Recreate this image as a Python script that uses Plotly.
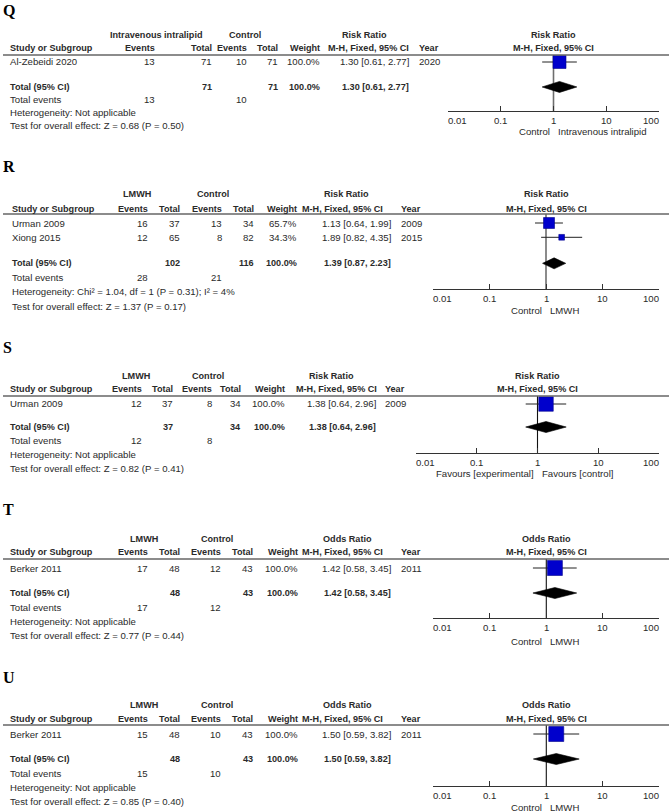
import math
import plotly.graph_objects as go

W, H = 669, 812

# ---------------- data ----------------
panels = ["Q", "R", "S", "T", "U"]
exp_label = ["Intravenous intralipid", "LMWH", "LMWH", "LMWH", "LMWH"]
measure = ["Risk Ratio", "Risk Ratio", "Risk Ratio", "Odds Ratio", "Odds Ratio"]
studies = [["Al-Zebeidi 2020"], ["Urman 2009", "Xiong 2015"], ["Urman 2009"], ["Berker 2011"], ["Berker 2011"]]
years = [[2020], [2009, 2015], [2009], [2011], [2011]]
exp_events = [[13], [16, 12], [12], [17], [15]]
exp_total = [[71], [37, 65], [37], [48], [48]]
ctl_events = [[10], [13, 8], [8], [12], [10]]
ctl_total = [[71], [34, 82], [34], [43], [43]]
weights = [[100.0], [65.7, 34.3], [100.0], [100.0], [100.0]]
est = [[1.30], [1.13, 1.89], [1.38], [1.42], [1.50]]
ci_lo = [[0.61], [0.64, 0.82], [0.64], [0.58], [0.59]]
ci_hi = [[2.77], [1.99, 4.35], [2.96], [3.45], [3.82]]
pooled_est = [1.30, 1.39, 1.38, 1.42, 1.50]
pooled_lo = [0.61, 0.87, 0.64, 0.58, 0.59]
pooled_hi = [2.77, 2.23, 2.96, 3.45, 3.82]
heterogeneity = ["Not applicable", "Chi² = 1.04, df = 1 (P = 0.31); I² = 4%",
                 "Not applicable", "Not applicable", "Not applicable"]
overall_test = ["Z = 0.68 (P = 0.50)", "Z = 1.37 (P = 0.17)", "Z = 0.82 (P = 0.41)",
                "Z = 0.77 (P = 0.44)", "Z = 0.85 (P = 0.40)"]
favour_left = ["Control", "Control", "Favours [experimental]", "Control", "Control"]
favour_right = ["Intravenous intralipid", "LMWH", "Favours [control]", "LMWH", "LMWH"]
tick_vals = [0.01, 0.1, 1, 10, 100]
tick_text = ["0.01", "0.1", "1", "10", "100"]

# ---------------- layout (pixels) ----------------
P_letter = [10, 167, 347, 510, 677]
P_h1 = [35, 194, 376, 539, 705]
P_h2 = [48, 209, 389, 552, 719]
P_line = [55, 214, 396, 559, 725]
P_row0 = [62, 223, 404, 568, 734]
P_dy = [12.8, 14.3, 13.7, 14.3, 14.3]
P_gap = [1.95, 1.82, 1.68, 1.75, 1.75]
P_axis = [111, 289, 453, 618, 786]
P_fav = [131, 311, 473, 641, 807]
P_x001 = [448, 432.7, 415.7, 433.3, 433.3]
P_x100 = [659, 659.3, 659.3, 659.3, 659.3]
P_left = [10, 11.5, 10, 10, 10]
C_exp_ev = [155, 148, 142, 148, 148]
C_exp_n = [212, 180, 173, 180, 180]
C_ctl_ev = [247, 222, 212, 221, 221]
C_ctl_n = [278, 254, 241, 253, 253]
C_weight = [320, 297, 285, 298, 298]
C_est = [409, 391, 376, 391, 391]
C_est_hdr = [409, 383, 377, 383, 383]
C_year = [419, 401, 385, 401, 401]
C_exp_hdr = [156, 137, 136, 144, 144]
C_ctl_hdr = [245, 213, 208, 217, 217]
C_meas_hdr = [365, 346, 331, 347, 347]
P_sq = [13, 16.7, 14.5, 15, 15]
P_vline_col = ["#6e6e6e", "#6e6e6e", "#111111", "#111111", "#111111"]
P_vline_w = [1.6, 1.6, 1.1, 1.1, 1.1]

FONT = "Liberation Sans, Arial, sans-serif"
TXT = "#2a2a2a"
REG = 9.6
BLD = 9.1

fig = go.Figure()
ann = []
shapes = []


def txt(x, y, s, anchor="left", bold=False, size=None, family=FONT, color=TXT):
    if size is None:
        size = BLD if bold else REG
    ann.append(dict(x=x / W, y=1 - y / H, xref="paper", yref="paper",
                    text=("<b>%s</b>" % s) if bold else s, showarrow=False,
                    xanchor=anchor, yanchor="middle", borderpad=0, borderwidth=0,
                    font=dict(family=family, size=size, color=color)))


for k in range(len(panels)):
    ax = "" if k == 0 else str(k + 1)
    xa, ya = "x" + ax, "y" + ax
    dy = P_dy[k]
    r0 = P_row0[k]
    n = len(studies[k])
    total_row = n - 1 + P_gap[k]
    ytop = (P_line[k] - r0) / dy
    ybot = (P_axis[k] - r0) / dy

    fig.update_layout(**{
        "xaxis" + ax: dict(type="log", range=[-2, 2], domain=[P_x001[k] / W, P_x100[k] / W],
                           anchor=ya, showline=True, linecolor="#333333", linewidth=1.3,
                           ticks="inside", ticklen=5, tickwidth=1.2, tickcolor="#333333",
                           tickvals=tick_vals, showticklabels=False, showgrid=False,
                           zeroline=False, fixedrange=True),
        "yaxis" + ax: dict(domain=[1 - P_axis[k] / H, 1 - P_line[k] / H], range=[ybot, ytop],
                           visible=False, showgrid=False, zeroline=False, fixedrange=True),
    })

    # line of no effect
    fig.add_trace(go.Scatter(x=[1, 1], y=[ytop, ybot + 3 / dy], mode="lines", xaxis=xa, yaxis=ya,
                             line=dict(color=P_vline_col[k], width=P_vline_w[k]),
                             hoverinfo="skip", showlegend=False, cliponaxis=False))
    # whiskers
    wx, wy = [], []
    for i in range(n):
        wx += [ci_lo[k][i], ci_hi[k][i], None]
        wy += [i, i, None]
    fig.add_trace(go.Scatter(x=wx, y=wy, mode="lines", xaxis=xa, yaxis=ya,
                             line=dict(color="#222222", width=1), hoverinfo="skip",
                             showlegend=False, cliponaxis=False))
    # squares
    fig.add_trace(go.Scatter(x=est[k], y=list(range(n)), mode="markers", xaxis=xa, yaxis=ya,
                             marker=dict(symbol="square", color="#0000CC", opacity=1,
                                         size=[P_sq[k] * w / 100 for w in weights[k]],
                                         line=dict(color="#00008B", width=0.6)),
                             hoverinfo="skip", showlegend=False, cliponaxis=False))
    # diamond
    hh = 5.5 / dy
    fig.add_trace(go.Scatter(x=[pooled_lo[k], pooled_est[k], pooled_hi[k], pooled_est[k], pooled_lo[k]],
                             y=[total_row, total_row - hh, total_row, total_row + hh, total_row],
                             mode="lines", fill="toself", fillcolor="#000000", xaxis=xa, yaxis=ya,
                             line=dict(color="#000000", width=0.6), hoverinfo="skip",
                             showlegend=False, cliponaxis=False))

    # header separator
    shapes.append(dict(type="line", xref="paper", yref="paper", x0=3 / W, x1=1,
                       y0=1 - P_line[k] / H, y1=1 - P_line[k] / H,
                       line=dict(color="#666666", width=1.3)))

    # panel letter
    txt(3, P_letter[k], panels[k], bold=True, size=16, family="Liberation Serif, Times New Roman, serif",
        color="#000000")

    xc = (P_x001[k] + P_x100[k]) / 2
    # header rows
    txt(C_exp_hdr[k], P_h1[k], exp_label[k], "center", True)
    txt(C_ctl_hdr[k], P_h1[k], "Control", "center", True)
    txt(C_meas_hdr[k], P_h1[k], measure[k], "center", True)
    txt(xc, P_h1[k], measure[k], "center", True)
    h2 = P_h2[k]
    txt(P_left[k], h2, "Study or Subgroup", "left", True)
    txt(C_exp_ev[k], h2, "Events", "right", True)
    txt(C_exp_n[k], h2, "Total", "right", True)
    txt(C_ctl_ev[k], h2, "Events", "right", True)
    txt(C_ctl_n[k], h2, "Total", "right", True)
    txt(C_weight[k], h2, "Weight", "right", True)
    txt(C_est_hdr[k], h2, "M-H, Fixed, 95% CI", "right", True)
    txt(C_year[k], h2, "Year", "left", True)
    txt(xc, h2, "M-H, Fixed, 95% CI", "center", True)

    # study rows
    for i in range(n):
        y = r0 + i * dy
        txt(P_left[k], y, studies[k][i])
        txt(C_exp_ev[k], y, str(exp_events[k][i]), "right")
        txt(C_exp_n[k], y, str(exp_total[k][i]), "right")
        txt(C_ctl_ev[k], y, str(ctl_events[k][i]), "right")
        txt(C_ctl_n[k], y, str(ctl_total[k][i]), "right")
        txt(C_weight[k], y, "%.1f%%" % weights[k][i], "right")
        txt(C_est[k], y, "%.2f [%.2f, %.2f]" % (est[k][i], ci_lo[k][i], ci_hi[k][i]), "right")
        txt(C_year[k], y, str(years[k][i]), "left")

    # total row
    yt = r0 + total_row * dy
    txt(P_left[k], yt, "Total (95% CI)", "left", True)
    txt(C_exp_n[k], yt, str(sum(exp_total[k])), "right", True)
    txt(C_ctl_n[k], yt, str(sum(ctl_total[k])), "right", True)
    txt(C_weight[k], yt, "%.1f%%" % sum(weights[k]), "right", True)
    txt(C_est[k], yt, "%.2f [%.2f, %.2f]" % (pooled_est[k], pooled_lo[k], pooled_hi[k]), "right", True)
    txt(P_left[k], yt + dy, "Total events")
    txt(C_exp_ev[k], yt + dy, str(sum(exp_events[k])), "right")
    txt(C_ctl_ev[k], yt + dy, str(sum(ctl_events[k])), "right")
    txt(P_left[k], yt + 2 * dy, "Heterogeneity: " + heterogeneity[k])
    txt(P_left[k], yt + 3 * dy, "Test for overall effect: " + overall_test[k])

    # axis tick labels
    for j, (v, t) in enumerate(zip(tick_vals, tick_text)):
        anchor = "left" if j == 0 else ("right" if j == len(tick_vals) - 1 else "center")
        ann.append(dict(x=math.log10(v), y=1 - (P_axis[k] + 9) / H, xref=xa, yref="paper",
                        text=t, showarrow=False, xanchor=anchor, yanchor="middle",
                        borderpad=0, borderwidth=0, font=dict(family=FONT, size=REG, color=TXT)))
    # favours labels
    for lab, anchor, shift in [(favour_left[k], "right", -4), (favour_right[k], "left", 4)]:
        ann.append(dict(x=0, y=1 - P_fav[k] / H, xref=xa, yref="paper", text=lab,
                        showarrow=False, xanchor=anchor, yanchor="middle", xshift=shift,
                        borderpad=0, borderwidth=0, font=dict(family=FONT, size=REG, color=TXT)))

fig.update_layout(width=W, height=H, margin=dict(l=0, r=0, t=0, b=0),
                  paper_bgcolor="white", plot_bgcolor="white",
                  annotations=ann, shapes=shapes, showlegend=False)

fig.write_html("out.html", config={"displayModeBar": False},
               post_script="document.body.style.margin='0';document.body.style.overflow='hidden';")
